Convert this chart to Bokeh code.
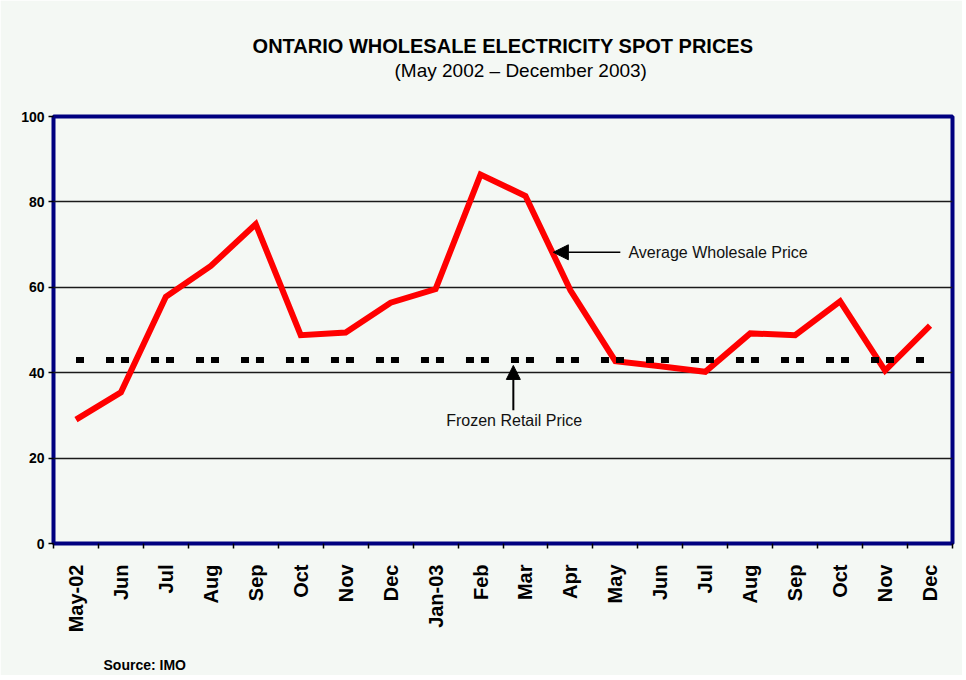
import math
from bokeh.plotting import figure
from bokeh.models import FixedTicker, Label, Arrow, NormalHead, Range1d, Title
from bokeh.embed import file_html
from bokeh.resources import INLINE

# ---- data ----
months = ["May-02", "Jun", "Jul", "Aug", "Sep", "Oct", "Nov", "Dec", "Jan-03", "Feb",
          "Mar", "Apr", "May", "Jun", "Jul", "Aug", "Sep", "Oct", "Nov", "Dec"]
wholesale = [29.0, 35.4, 57.8, 65.0, 74.8, 48.8, 49.4, 56.4, 59.6, 86.4,
             81.4, 59.3, 42.7, 41.5, 40.2, 49.2, 48.8, 56.7, 40.5, 51.0]
retail = [43.0, 43.0, 43.0, 43.0, 43.0, 43.0, 43.0, 43.0, 43.0, 43.0,
          43.0, 43.0, 43.0, 43.0, 43.0, 43.0, 43.0, 43.0, 43.0, 43.0]
y_ticks = [0, 20, 40, 60, 80, 100]

title_text = "ONTARIO WHOLESALE ELECTRICITY SPOT PRICES"
subtitle_text = "(May 2002 \u2013 December 2003)"
source_text = "Source: IMO"

BG = "#f4f8f4"
FONT = "Liberation Sans"

xs = [i + 0.5 for i in range(len(months))]

p = figure(frame_width=899, frame_height=427,
           x_range=Range1d(0, len(months)), y_range=Range1d(0, 100),
           output_backend="svg", toolbar_location=None,
           min_border_left=53, min_border_right=10,
           min_border_top=116, min_border_bottom=132,
           background_fill_color=BG, border_fill_color=BG)
p.outline_line_color = "#000080"
p.outline_line_width = 4

# titles (first added sits closest to the frame)
p.add_layout(Title(text=" ", standoff=33, text_font=FONT, text_font_size="1px",
                   text_color=BG), "above")
p.add_layout(Title(text=subtitle_text, align="left", offset=341, standoff=0,
                   text_font=FONT, text_font_style="normal", text_font_size="19px",
                   text_color="black"), "above")
p.add_layout(Title(text=title_text, align="center", standoff=2,
                   text_font=FONT, text_font_style="bold", text_font_size="20px",
                   text_color="black"), "above")

# x axis
p.xaxis.ticker = FixedTicker(ticks=xs, minor_ticks=list(range(len(months) + 1)))
p.xaxis.major_label_overrides = {x: m for x, m in zip(xs, months)}
p.xaxis.major_tick_out = 0
p.xaxis.major_tick_in = 0
p.xaxis.minor_tick_out = 5
p.xaxis.minor_tick_in = 0
p.xaxis.minor_tick_line_color = "black"
p.xaxis.minor_tick_line_width = 1.5
p.xaxis.axis_line_color = None
p.xaxis.major_label_orientation = math.pi / 2
p.xaxis.major_label_standoff = 16
p.xaxis.major_label_text_font = FONT
p.xaxis.major_label_text_font_style = "bold"
p.xaxis.major_label_text_font_size = "20px"
p.xaxis.major_label_text_color = "black"
p.xgrid.visible = False

p.add_layout(Title(text=" ", standoff=15, text_font=FONT, text_font_size="1px",
                   text_color=BG), "below")
p.add_layout(Title(text=source_text, align="left", offset=50, standoff=2,
                   text_font=FONT, text_font_style="bold", text_font_size="14px",
                   text_color="black"), "below")

# y axis
p.yaxis.ticker = FixedTicker(ticks=y_ticks, minor_ticks=[])
p.yaxis.major_tick_out = 5
p.yaxis.major_tick_in = 0
p.yaxis.major_tick_line_color = "black"
p.yaxis.major_tick_line_width = 1.5
p.yaxis.axis_line_color = None
p.yaxis.major_label_standoff = 4
p.yaxis.major_label_text_font = FONT
p.yaxis.major_label_text_font_style = "bold"
p.yaxis.major_label_text_font_size = "14px"
p.yaxis.major_label_text_color = "black"
p.ygrid.ticker = FixedTicker(ticks=y_ticks)
p.ygrid.grid_line_color = "#1a1a1a"
p.ygrid.grid_line_width = 1.5

# series
p.line(xs, wholesale, line_color="#ff0000", line_width=6, line_join="miter")
p.line(xs, retail, line_color="black", line_width=6, line_dash="8 22 8 7")

# annotations
p.add_layout(Arrow(end=NormalHead(size=15, fill_color="black", line_color="black"),
                   x_start=12.61, y_start=68.2, x_end=11.12, y_end=68.2,
                   line_color="black", line_width=1.5))
p.add_layout(Label(x=12.79, y=68.2, text="Average Wholesale Price",
                   text_font=FONT, text_font_size="16px", text_color="#111111",
                   text_baseline="middle", text_align="left"))
p.add_layout(Arrow(end=NormalHead(size=14, fill_color="black", line_color="black"),
                   x_start=10.23, y_start=31.2, x_end=10.23, y_end=41.7,
                   line_color="black", line_width=2))
p.add_layout(Label(x=10.25, y=28.8, text="Frozen Retail Price",
                   text_font=FONT, text_font_size="16px", text_color="#111111",
                   text_baseline="middle", text_align="center"))

open("out.html", "w").write(file_html(p, INLINE))
